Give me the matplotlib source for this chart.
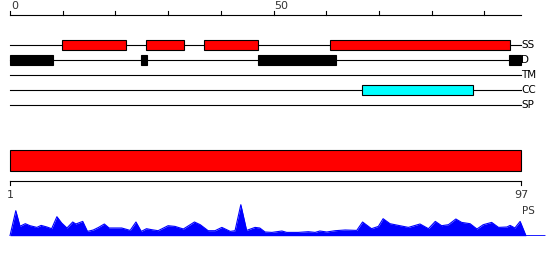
import numpy as np
import matplotlib.pyplot as plt
from matplotlib.patches import Rectangle

seq_len = 97

# feature tracks (start, end) in residues
ss_regions = [(9.9, 22.0), (25.8, 33.0), (36.8, 47.1), (60.7, 94.9)]
d_regions = [(0, 8.2), (24.9, 26.0), (47.0, 61.9), (94.7, 97.0)]
tm_regions = []
cc_regions = [(66.8, 87.9)]
sp_regions = []

track_names = ['SS', 'D', 'TM', 'CC', 'SP']

# PS profile (residue position, score)
ps_pos = [0, 1.1, 1.9, 2.9, 3.8, 5.1, 5.9, 7.0, 7.9, 8.9, 9.8, 10.8, 11.9, 12.5, 13.8,
          14.7, 15.8, 16.8, 17.9, 18.8, 21.2, 22.8, 23.9, 24.9, 25.9, 26.9, 28.1, 30.0,
          31.3, 32.9, 35.0, 36.1, 37.6, 38.9, 40.2, 41.8, 42.7, 43.8, 44.9, 46.5, 47.4,
          48.4, 49.7, 51.6, 52.5, 54.7, 56.6, 57.9, 58.8, 60.1, 61.7, 63.6, 65.8, 66.9,
          68.6, 69.9, 70.8, 72.1, 73.7, 75.6, 77.8, 79.4, 80.7, 81.9, 83.2, 84.6, 85.7,
          87.3, 88.6, 89.8, 91.4, 92.7, 94.3, 94.9, 95.8, 96.8, 97.9, 101.5]
ps_score = [0, 25, 9.4, 12, 10, 8.3, 10.3, 8.7, 7, 19, 12.7, 7.7, 13.7, 11.7, 14.3,
            4.3, 5.7, 8.3, 11.7, 7.7, 7.7, 5.3, 13.7, 4.3, 7, 6, 5, 10,
            9.3, 6.7, 13.7, 11, 5, 5, 8.3, 4.3, 5, 31, 5.3, 8.3, 7.7,
            3.7, 3.3, 4.7, 3.3, 3.3, 4, 3.3, 4.7, 3.7, 5, 5.7, 5.3, 13.7,
            7, 9.3, 17, 12, 10.3, 8.3, 11.7, 7, 14.3, 10, 11, 16.7, 13.3,
            12, 6.7, 11, 13.3, 8.3, 8.7, 10.3, 7.7, 14.3, 0, 0]

px = 5.27  # pixels per residue
xlim = (-10 / px, 540 / px)

fig = plt.figure(figsize=(5.5, 2.6), dpi=100)
ax = fig.add_axes([0, 0, 1, 1])
ax.set_xlim(xlim)
ax.set_ylim(260, 0)
ax.axis('off')

# top ruler
ax.plot([0, seq_len], [15, 15], color='black', lw=0.8)
for t in range(0, seq_len + 1, 10):
    ax.plot([t, t], [11, 15], color='black', lw=0.8)
for t in [0, 50]:
    ax.text(t + 0.2, 11, str(t), ha='left', va='bottom', fontsize=8, color='#333333')

# tracks
track_y = [45, 60, 75, 90, 105]
track_regions = [ss_regions, d_regions, tm_regions, cc_regions, sp_regions]
track_colors = ['#ff0000', 'black', 'black', '#00ffff', 'black']
for name, y, regions, c in zip(track_names, track_y, track_regions, track_colors):
    ax.plot([0, seq_len - 0.1], [y, y], color='black', lw=0.8, zorder=1)
    for s, e in regions:
        ax.add_patch(Rectangle((s, y - 5), e - s, 10, facecolor=c, edgecolor='black',
                               lw=0.8, zorder=2))
    ax.text(seq_len, y, name, ha='left', va='center', fontsize=7.5)

# protein bar
ax.add_patch(Rectangle((0, 150), seq_len, 20.5, facecolor='#ff0000', edgecolor='black', lw=0.8))

# lower scale
ax.plot([0, seq_len], [180.7, 180.7], color='black', lw=0.8)
for t in [0, seq_len]:
    ax.plot([t, t], [180.7, 185], color='black', lw=0.8)
ax.text(0, 190, '1', ha='center', va='top', fontsize=8, color='#333333')
ax.text(seq_len, 190, str(seq_len), ha='center', va='top', fontsize=8, color='#333333')
ax.text(seq_len + 0.2, 211, 'PS', ha='left', va='center', fontsize=7.5, color='#333333')

# PS profile
pax = fig.add_axes([0, 1 - 235.7 / 260, 1, 32 / 260])
pax.set_xlim(xlim)
pax.set_ylim(0, 32)
pax.axis('off')
pax.fill_between(ps_pos, 0, ps_score, color='#0000ff', lw=0)
pax.plot(ps_pos, ps_score, color='#0000ff', lw=0.8)

fig.savefig('out.png', dpi=100)
